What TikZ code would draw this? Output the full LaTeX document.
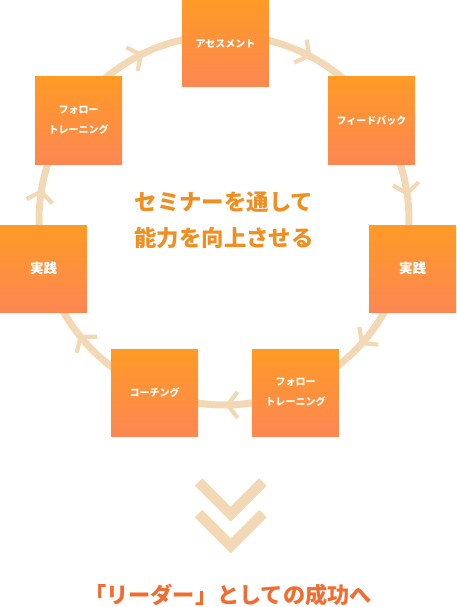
\documentclass[tikz,border=0pt]{standalone}
\usepackage{fontspec}
\setmainfont{Noto Sans CJK JP}
\usetikzlibrary{positioning,arrows.meta,decorations.markings}

\definecolor{boxtop}{RGB}{255,154,38}
\definecolor{boxbot}{RGB}{252,135,82}
\definecolor{ringcol}{RGB}{243,216,182}
\definecolor{midtext}{RGB}{240,142,32}
\definecolor{goaltext}{RGB}{242,108,48}

\tikzset{
  stage/.style={rectangle, minimum size=87pt, inner sep=0pt, top color=boxtop, bottom color=boxbot,
    text=white, font=\fontsize{10}{20}\selectfont\bfseries, align=center},
  bigstage/.style={stage, font=\fontsize{13.5}{20}\selectfont\bfseries},
  ring/.style={draw, color=ringcol, line width=7pt, postaction={decorate},
    decoration={markings, mark=at position #1 with {\arrow{Straight Barb[length=10pt,width=26pt,line width=4.2pt]}}}},
  chevron/.style={draw=ringcol, line width=10.6pt, miter limit=10},
}

\begin{document}
\begin{tikzpicture}[x=1pt, y=1pt]
    \useasboundingbox (0,0) rectangle (456,-607);

    % ring of the cycle
    \coordinate (ctr) at (224,-220);
    \coordinate (r-followT) at ([shift={(145.6:185)}]ctr);
    \coordinate (r-assess) at ([shift={(89.5:185)}]ctr);
    \coordinate (r-feedback) at ([shift={(34:185)}]ctr);
    \coordinate (r-practiceR) at ([shift={(-14.4:185)}]ctr);
    \coordinate (r-followB) at ([shift={(-67.5:185)}]ctr);
    \coordinate (r-coaching) at ([shift={(-111.9:185)}]ctr);
    \coordinate (r-practiceL) at ([shift={(-165:185)}]ctr);

    \draw[ring=0.53] (r-followT) arc[start angle=145.6, end angle=89.5, radius=185];
    \draw[ring=0.5] (r-assess) arc[start angle=89.5, end angle=34, radius=185];
    \draw[ring=0.55] (r-feedback) arc[start angle=34, end angle=-14.4, radius=185];
    \draw[ring=0.53] (r-practiceR) arc[start angle=-14.4, end angle=-67.5, radius=185];
    \draw[ring=0.5] (r-followB) arc[start angle=-67.5, end angle=-111.9, radius=185];
    \draw[ring=0.56] (r-coaching) arc[start angle=-111.9, end angle=-165, radius=185];
    \draw[ring=0.5] (r-practiceL) arc[start angle=-165, end angle=-214.4, radius=185];

    % stages
    \node[stage] (assess) at (225.5,-43.5) {アセスメント};
    \node[stage] (feedback) at (371.5,-120.5) {フィードバック};
    \node[bigstage] (practiceR) at (412.5,-268.5) {実践};
    \node[stage] (followB) at (295.5,-392.5) {フォロー\\トレーニング};
    \node[stage] (coaching) at (154.5,-392.5) {コーチング};
    \node[bigstage] (practiceL) at (43.5,-268.5) {実践};
    \node[stage] (followT) at (78.5,-120.5) {フォロー\\トレーニング};

    \node[align=center, text=midtext, font=\fontsize{22.4}{36.3}\selectfont\bfseries] (theme) at (ctr) {セミナーを通して\\能力を向上させる};

    % down chevrons and goal
    \draw[chevron] (198.5,-482) -- (230.7,-514.2) -- (262.9,-482);
    \draw[chevron] (198.5,-513.6) -- (230.7,-545.8) -- (262.9,-513.6);
    \node[text=goaltext, font=\fontsize{22.2}{26}\selectfont\bfseries] (goal) at (228,-595) {「リーダー」としての成功へ};
\end{tikzpicture}
\end{document}
